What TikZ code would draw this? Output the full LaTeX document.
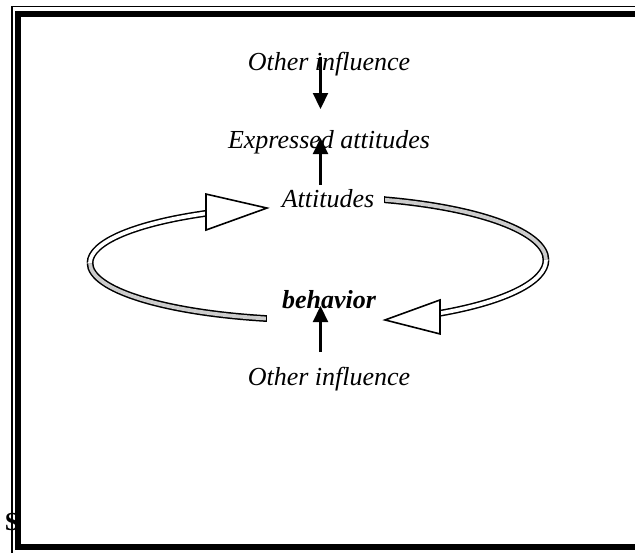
\documentclass[tikz,border=0pt]{standalone}
\usepackage{fontspec}
\setmainfont{Liberation Serif}
\usetikzlibrary{arrows.meta}

\begin{document}
\begin{tikzpicture}[x=1pt, y=-1pt,
    texto/.style={font=\fontsize{26}{30}\selectfont\itshape, anchor=base, inner sep=0pt},
    influencia/.style={-{Triangle[width=15pt, length=16pt]}, line width=2.2pt},
    cinta/.style={line width=1.5pt, double distance=3.8pt, line cap=butt},
    punta/.style={draw, line width=1.6pt, fill=white, line join=miter}]
    \clip (0,0) rectangle (635,552);

    % Letra suelta bajo el marco
    \node (letra) [texto, font=\fontsize{26}{30}\selectfont\bfseries] at (12,530) {S};

    % Marco doble
    \draw[line width=1.6pt] (11.8,560) -- (11.8,6.5) -- (650,6.5);
    \draw[line width=6.5pt] (18,14) rectangle (650,547);

    % Definir nodos de texto
    \node (oiarriba) [texto] at (329,70) {Other influence};
    \node (expresadas) [texto] at (329,148) {Expressed attitudes};
    \node (actitudes) [texto] at (328,207) {Attitudes};
    \node (conducta) [texto, font=\fontsize{26}{30}\selectfont\bfseries\itshape] at (329,308) {behavior};
    \node (oiabajo) [texto] at (329,385) {Other influence};

    % Flechas de influencia
    \draw[influencia] ([xshift=-8.5pt, yshift=13pt]oiarriba.base) -- ([xshift=-8.5pt, yshift=39pt]expresadas.base);
    \draw[influencia] ([xshift=-7.5pt, yshift=22pt]actitudes.base) -- ([xshift=-8.5pt, yshift=10pt]expresadas.base);
    \draw[influencia] ([xshift=-8.5pt, yshift=33pt]oiabajo.base) -- ([xshift=-8.5pt, yshift=2pt]conducta.base);

    % Ciclo: de la conducta a las actitudes
    \coordinate (cizq) at (318,263);
    \draw[cinta, double=gray!40] (cizq) ++(103:228 and 57) coordinate (iniizq)
        arc[start angle=103, end angle=180, x radius=228, y radius=57];
    \draw[cinta, double=white] (cizq) ++(180:228 and 57)
        arc[start angle=180, end angle=241, x radius=228, y radius=57] coordinate (finizq);
    \draw[line width=1.5pt] ([yshift=3.4pt]iniizq) -- ([yshift=-3.4pt]iniizq);
    \draw[punta] ([xshift=-1.5pt, yshift=19.1pt]finizq) -- ([xshift=-1.5pt, yshift=-16.9pt]finizq)
        -- ([xshift=59.5pt, yshift=5.1pt]finizq) -- cycle;

    % Ciclo: de las actitudes a la conducta
    \coordinate (cder) at (318,260);
    \draw[cinta, double=gray!40] (cder) ++(-73:228 and 63) coordinate (inider)
        arc[start angle=-73, end angle=0, x radius=228, y radius=63];
    \draw[cinta, double=white] (cder) ++(0:228 and 63)
        arc[start angle=0, end angle=57.7, x radius=228, y radius=63] coordinate (finder);
    \draw[line width=1.5pt] ([yshift=3.4pt]inider) -- ([yshift=-3.4pt]inider);
    \draw[punta] ([xshift=0.2pt, yshift=13.3pt]finder) -- ([xshift=0.2pt, yshift=-20.7pt]finder)
        -- ([xshift=-54.8pt, yshift=-6.7pt]finder) -- cycle;
\end{tikzpicture}
\end{document}
